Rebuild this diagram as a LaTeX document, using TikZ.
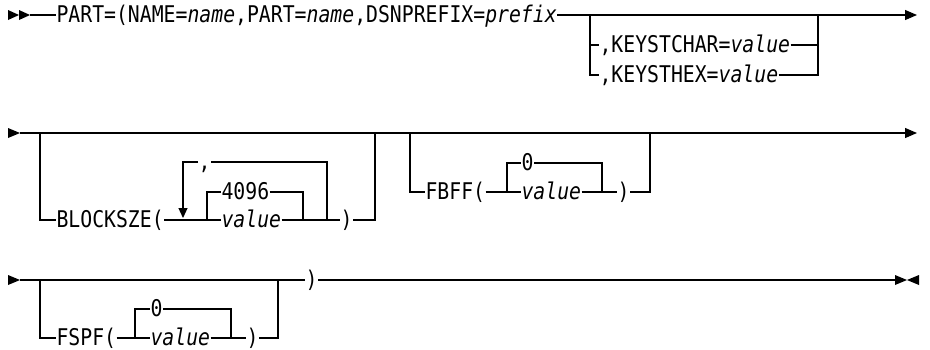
\documentclass[tikz,border=0pt]{standalone}
\usepackage{fontspec}
\newfontfamily\rrfont[FakeStretch=0.86]{DejaVu Sans Mono}
\usetikzlibrary{arrows.meta}

\begin{document}
\begin{tikzpicture}[x=1pt, y=-1pt, line width=1.1pt,
    tok/.style={font=\rrfont\fontsize{23pt}{27pt}\selectfont, inner sep=0pt,
      text height=18.5pt, text depth=4.5pt, anchor=west},
    tip/.style={-{Triangle[length=12pt,width=10pt]}},
    looptip/.style={-{Triangle[length=10pt,width=9pt]}, shorten >=2pt}]
        % \draw[help lines, gray!50, very thin] (0,0) grid[step=10] (930,349);
        \useasboundingbox (0,0) rectangle (930,349);

        % row 1
        \fill (8,10) -- (19,15) -- (8,20) -- cycle;
        \fill (19,10) -- (30,15) -- (19,20) -- cycle;
        \coordinate (s1) at (30,15);
        \node[tok] (part) at (56,15) {PART=(NAME=\textit{name},PART=\textit{name},DSNPREFIX=\textit{prefix}};
        \coordinate (e1) at (917,15);
        \draw (s1) -- (part.west);
        \draw[tip] (part.east) -- (e1);

        \coordinate (b1l) at (590,15);
        \coordinate (b1r) at (818,15);
        \node[tok] (kchar) at (599,45) {,KEYSTCHAR=\textit{value}};
        \node[tok] (khex) at (599,75) {,KEYSTHEX=\textit{value}};
        \draw (b1l) |- (khex.west);
        \draw (kchar.west -| b1l) -- (kchar.west);
        \draw (kchar.east) -| (b1r);
        \draw (khex.east) -| (b1r);

        % row 2
        \fill (8,128) -- (20,133) -- (8,138) -- cycle;
        \coordinate (a2) at (20,133);
        \coordinate (e2) at (917,133);
        \draw[tip] (a2) -- (e2);

        \coordinate (b2l) at (40,133);
        \coordinate (b2r) at (375,133);
        \node[tok] (blk) at (56,220) {BLOCKSZE(};
        \draw (b2l) |- (blk.west);
        \node[tok] (comma) at (198,162) {,};
        \coordinate (lpl) at (183,220);
        \coordinate (lpr) at (327,220);
        \coordinate (ch2l) at (207,220);
        \coordinate (ch2r) at (303,220);
        \node[tok] (v4096) at (221,192) {4096};
        \node[tok] (val2) at (221,220) {\textit{value}};
        \node[tok] (rp2) at (340,220) {)};
        \draw (blk.east) -- (val2.west);
        \draw (ch2l) |- (v4096.west);
        \draw (v4096.east) -| (ch2r);
        \draw (val2.east) -- (rp2.west);
        \draw (lpr) |- (comma.east);
        \draw[looptip] (comma.west) -| (lpl);
        \draw (rp2.east) -| (b2r);

        \coordinate (c2l) at (410,133);
        \coordinate (c2r) at (650,133);
        \node[tok] (fbff) at (425,192) {FBFF(};
        \draw (c2l) |- (fbff.west);
        \coordinate (ch3l) at (507,192);
        \coordinate (ch3r) at (602,192);
        \node[tok] (zero2) at (521,163) {0};
        \node[tok] (val3) at (521,192) {\textit{value}};
        \node[tok] (rp3) at (617,192) {)};
        \draw (fbff.east) -- (val3.west);
        \draw (ch3l) |- (zero2.west);
        \draw (zero2.east) -| (ch3r);
        \draw (val3.east) -- (rp3.west);
        \draw (rp3.east) -| (c2r);

        % row 3
        \fill (8,275) -- (20,280) -- (8,285) -- cycle;
        \coordinate (a3) at (20,280);
        \coordinate (b3l) at (40,280);
        \coordinate (b3r) at (278,280);
        \node[tok] (rp5) at (305,280) {)};
        \coordinate (e3) at (895,280);
        \draw (a3) -- (rp5.west);
        \draw (rp5.east) -- (e3);
        \fill (895,275) -- (907,280) -- (895,285) -- cycle;
        \fill (919,275) -- (907,280) -- (919,285) -- cycle;

        \node[tok] (fspf) at (56,338) {FSPF(};
        \draw (b3l) |- (fspf.west);
        \coordinate (ch4l) at (135,338);
        \coordinate (ch4r) at (231,338);
        \node[tok] (zero3) at (150,309) {0};
        \node[tok] (val4) at (150,338) {\textit{value}};
        \node[tok] (rp4) at (246,338) {)};
        \draw (fspf.east) -- (val4.west);
        \draw (ch4l) |- (zero3.west);
        \draw (zero3.east) -| (ch4r);
        \draw (val4.east) -- (rp4.west);
        \draw (rp4.east) -| (b3r);
      \end{tikzpicture}
\end{document}
